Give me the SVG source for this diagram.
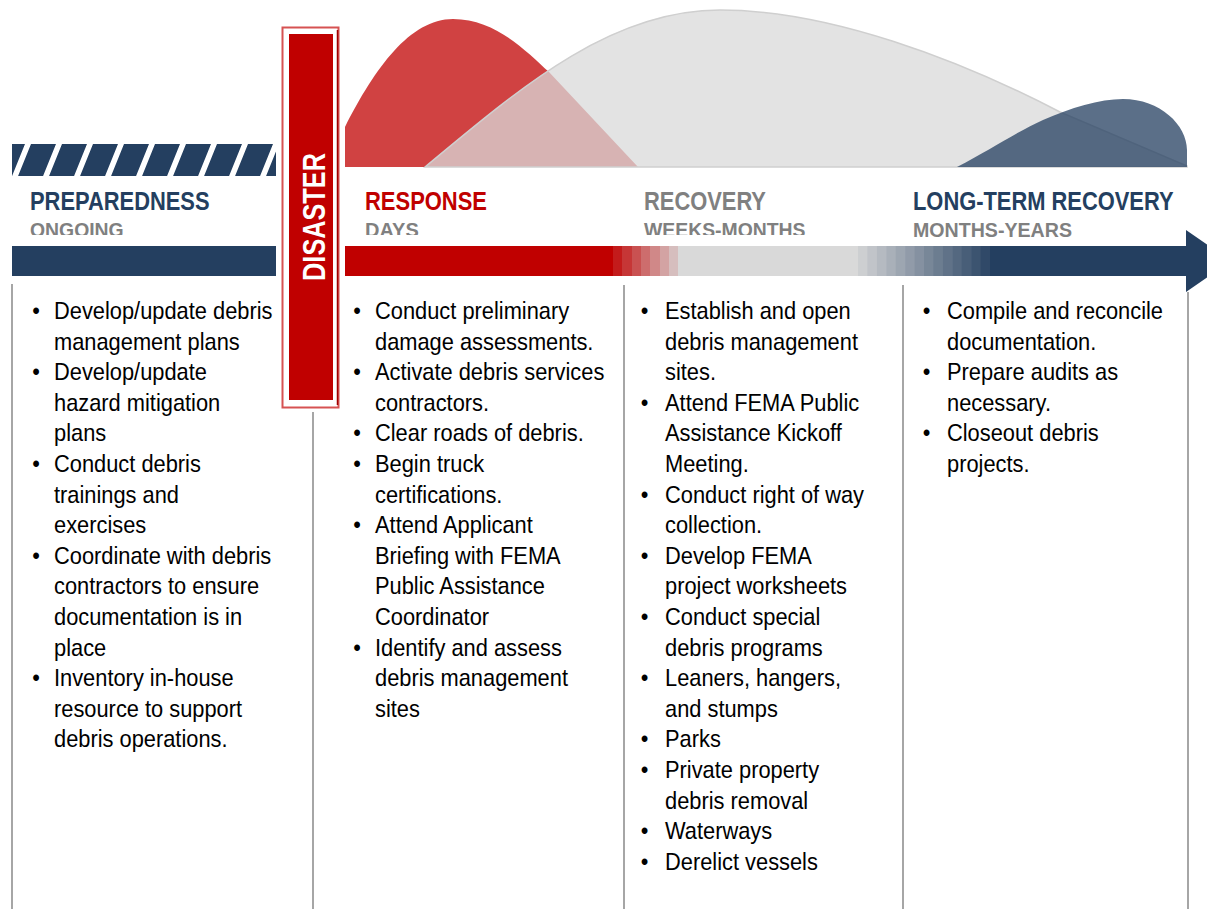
<svg xmlns="http://www.w3.org/2000/svg" width="1207" height="909" viewBox="0 0 1207 909">
<defs>
<style>
.vline{stroke:#a6a6a6;stroke-width:2;fill:none}
.hd{font-family:"Liberation Sans",Arial,sans-serif;font-weight:bold;font-size:26px}
.sub{font-family:"Liberation Sans",Arial,sans-serif;font-weight:bold;font-size:20px;fill:#808080}
.body{font-family:"Liberation Sans",Arial,sans-serif;font-size:24px;fill:#000}
.navy{fill:#243f60}
</style>
<pattern id="hatch" patternUnits="userSpaceOnUse" width="31" height="32" patternTransform="translate(0,144) skewX(-22)">
<rect width="31" height="32" fill="#243f60"/>
<rect x="25" width="6" height="32" fill="#ffffff"/>
</pattern>
<clipPath id="subclip"><rect x="0" y="200" width="1207" height="35"/></clipPath>
</defs>
<rect width="1207" height="909" fill="#ffffff"/>

<g id="curves">
<path d="M345,167 L345,127 C375,68 410,19 453,19 C495,19 525,50 549,72 L638,167 Z" fill="#c00000" fill-opacity="0.74"/>
<path d="M425,167 C520,88 610,10 720,10 C830,10 960,60 1060,112 L1187,166 L1187,167 Z" fill="#d9d9d9" fill-opacity="0.75" stroke="#cfcfcf" stroke-width="1.5"/>
<path d="M957,167 C990,150 1020,130 1043,120 C1070,108 1100,99 1123,99 C1160,99 1187,125 1187,150 L1187,167 Z" fill="#243f60" fill-opacity="0.75"/>
</g>

<g id="columns-lines">
<line class="vline" x1="12" y1="284" x2="12" y2="909"/>
<line class="vline" x1="313" y1="412" x2="313" y2="909"/>
<line class="vline" x1="624" y1="285" x2="624" y2="909"/>
<line class="vline" x1="903" y1="285" x2="903" y2="909"/>
<line class="vline" x1="1188" y1="292" x2="1188" y2="909"/>
</g>

<g id="preparedness">
<rect x="12" y="144" width="264" height="32" fill="url(#hatch)"/>
<text class="hd" transform="translate(30,210) scale(0.842,1)" fill="#243f60">PREPAREDNESS</text>
<g clip-path="url(#subclip)"><text class="sub" transform="translate(30,237) scale(0.97,1)">ONGOING</text></g>
<rect x="12" y="246" width="264" height="30" class="navy"/>
</g>

<g id="timeline-arrow">
<rect x="345" y="246" width="269" height="30" fill="#c00000"/>
<rect x="613" y="246" width="10" height="30" fill="#c31b1b"/>
<rect x="622" y="246" width="10" height="30" fill="#c63636"/>
<rect x="632" y="246" width="10" height="30" fill="#c95151"/>
<rect x="641" y="246" width="10" height="30" fill="#cd6d6d"/>
<rect x="650" y="246" width="10" height="30" fill="#d08888"/>
<rect x="660" y="246" width="10" height="30" fill="#d3a3a3"/>
<rect x="669" y="246" width="10" height="30" fill="#d6bebe"/>
<rect x="678" y="246" width="181" height="30" fill="#d9d9d9"/>
<rect x="858" y="246" width="10" height="30" fill="#cdcfd1"/>
<rect x="867.4" y="246" width="10" height="30" fill="#c1c4c9"/>
<rect x="876.9" y="246" width="10" height="30" fill="#b5bac1"/>
<rect x="886.3" y="246" width="10" height="30" fill="#a9b0b9"/>
<rect x="895.7" y="246" width="10" height="30" fill="#9da6b1"/>
<rect x="905.1" y="246" width="10" height="30" fill="#919ba9"/>
<rect x="914.6" y="246" width="10" height="30" fill="#8591a1"/>
<rect x="924" y="246" width="10" height="30" fill="#788798"/>
<rect x="933.4" y="246" width="10" height="30" fill="#6c7d90"/>
<rect x="942.9" y="246" width="10" height="30" fill="#607288"/>
<rect x="952.3" y="246" width="10" height="30" fill="#546880"/>
<rect x="961.7" y="246" width="10" height="30" fill="#485e78"/>
<rect x="971.1" y="246" width="10" height="30" fill="#3c5470"/>
<rect x="980.6" y="246" width="10" height="30" fill="#304968"/>
<path d="M990,246 L1186,246 L1186,230 L1231,261 L1186,292 L1186,276 L990,276 Z" class="navy"/>
</g>

<g id="disaster">
<rect x="282.5" y="27.5" width="56" height="380" fill="#ffffff" stroke="#d65252" stroke-width="2"/>
<line x1="337.5" y1="30" x2="337.5" y2="405" stroke="#a00000" stroke-width="1.5"/>
<rect x="289" y="34" width="44" height="366" fill="#c00000"/>
<text transform="translate(325,217) rotate(-90) scale(0.79,1)" text-anchor="middle" font-family="Liberation Sans, Arial, sans-serif" font-weight="bold" font-size="32" fill="#ffffff">DISASTER</text>
</g>

<g id="response">
<text class="hd" transform="translate(365,210) scale(0.845,1)" fill="#c00000">RESPONSE</text>
<g clip-path="url(#subclip)"><text class="sub" transform="translate(365,237) scale(1,1)">DAYS</text></g>
</g>

<g id="recovery">
<text class="hd" transform="translate(644,210) scale(0.842,1)" fill="#808080">RECOVERY</text>
<g clip-path="url(#subclip)"><text class="sub" transform="translate(644,237) scale(0.97,1)">WEEKS-MONTHS</text></g>
</g>

<g id="long-term-recovery">
<text class="hd" transform="translate(913,210) scale(0.842,1)" fill="#243f60">LONG-TERM RECOVERY</text>
<text class="sub" transform="translate(913,237) scale(0.98,1)">MONTHS-YEARS</text>
</g>

<g id="preparedness-tasks" transform="translate(54,0) scale(0.91,1)">
<text class="body" text-anchor="middle">
<tspan x="-19.8" y="319">•</tspan><tspan x="-19.8" y="380.2">•</tspan><tspan x="-19.8" y="472">•</tspan><tspan x="-19.8" y="563.8">•</tspan><tspan x="-19.8" y="686.2">•</tspan>
</text>
<text class="body">
<tspan x="0" y="319">Develop/update debris</tspan>
<tspan x="0" y="349.6">management plans</tspan>
<tspan x="0" y="380.2">Develop/update</tspan>
<tspan x="0" y="410.8">hazard mitigation</tspan>
<tspan x="0" y="441.4">plans</tspan>
<tspan x="0" y="472">Conduct debris</tspan>
<tspan x="0" y="502.6">trainings and</tspan>
<tspan x="0" y="533.2">exercises</tspan>
<tspan x="0" y="563.8">Coordinate with debris</tspan>
<tspan x="0" y="594.4">contractors to ensure</tspan>
<tspan x="0" y="625">documentation is in</tspan>
<tspan x="0" y="655.6">place</tspan>
<tspan x="0" y="686.2">Inventory in-house</tspan>
<tspan x="0" y="716.8">resource to support</tspan>
<tspan x="0" y="747.4">debris operations.</tspan>
</text>
</g>

<g id="response-tasks" transform="translate(375,0) scale(0.91,1)">
<text class="body" text-anchor="middle">
<tspan x="-19.8" y="319">•</tspan><tspan x="-19.8" y="380.2">•</tspan><tspan x="-19.8" y="441.4">•</tspan><tspan x="-19.8" y="472">•</tspan><tspan x="-19.8" y="533.2">•</tspan><tspan x="-19.8" y="655.6">•</tspan>
</text>
<text class="body">
<tspan x="0" y="319">Conduct preliminary</tspan>
<tspan x="0" y="349.6">damage assessments.</tspan>
<tspan x="0" y="380.2">Activate debris services</tspan>
<tspan x="0" y="410.8">contractors.</tspan>
<tspan x="0" y="441.4">Clear roads of debris.</tspan>
<tspan x="0" y="472">Begin truck</tspan>
<tspan x="0" y="502.6">certifications.</tspan>
<tspan x="0" y="533.2">Attend Applicant</tspan>
<tspan x="0" y="563.8">Briefing with FEMA</tspan>
<tspan x="0" y="594.4">Public Assistance</tspan>
<tspan x="0" y="625">Coordinator</tspan>
<tspan x="0" y="655.6">Identify and assess</tspan>
<tspan x="0" y="686.2">debris management</tspan>
<tspan x="0" y="716.8">sites</tspan>
</text>
</g>

<g id="recovery-tasks" transform="translate(665,0) scale(0.91,1)">
<text class="body" text-anchor="middle">
<tspan x="-22.5" y="319">•</tspan><tspan x="-22.5" y="410.8">•</tspan><tspan x="-22.5" y="502.6">•</tspan><tspan x="-22.5" y="563.8">•</tspan><tspan x="-22.5" y="625">•</tspan><tspan x="-22.5" y="686.2">•</tspan><tspan x="-22.5" y="747.4">•</tspan><tspan x="-22.5" y="778">•</tspan><tspan x="-22.5" y="839.2">•</tspan><tspan x="-22.5" y="869.8">•</tspan>
</text>
<text class="body">
<tspan x="0" y="319">Establish and open</tspan>
<tspan x="0" y="349.6">debris management</tspan>
<tspan x="0" y="380.2">sites.</tspan>
<tspan x="0" y="410.8">Attend FEMA Public</tspan>
<tspan x="0" y="441.4">Assistance Kickoff</tspan>
<tspan x="0" y="472">Meeting.</tspan>
<tspan x="0" y="502.6">Conduct right of way</tspan>
<tspan x="0" y="533.2">collection.</tspan>
<tspan x="0" y="563.8">Develop FEMA</tspan>
<tspan x="0" y="594.4">project worksheets</tspan>
<tspan x="0" y="625">Conduct special</tspan>
<tspan x="0" y="655.6">debris programs</tspan>
<tspan x="0" y="686.2">Leaners, hangers,</tspan>
<tspan x="0" y="716.8">and stumps</tspan>
<tspan x="0" y="747.4">Parks</tspan>
<tspan x="0" y="778">Private property</tspan>
<tspan x="0" y="808.6">debris removal</tspan>
<tspan x="0" y="839.2">Waterways</tspan>
<tspan x="0" y="869.8">Derelict vessels</tspan>
</text>
</g>

<g id="long-term-tasks" transform="translate(947,0) scale(0.91,1)">
<text class="body" text-anchor="middle">
<tspan x="-22.5" y="319">•</tspan><tspan x="-22.5" y="380.2">•</tspan><tspan x="-22.5" y="441.4">•</tspan>
</text>
<text class="body">
<tspan x="0" y="319">Compile and reconcile</tspan>
<tspan x="0" y="349.6">documentation.</tspan>
<tspan x="0" y="380.2">Prepare audits as</tspan>
<tspan x="0" y="410.8">necessary.</tspan>
<tspan x="0" y="441.4">Closeout debris</tspan>
<tspan x="0" y="472">projects.</tspan>
</text>
</g>
</svg>
